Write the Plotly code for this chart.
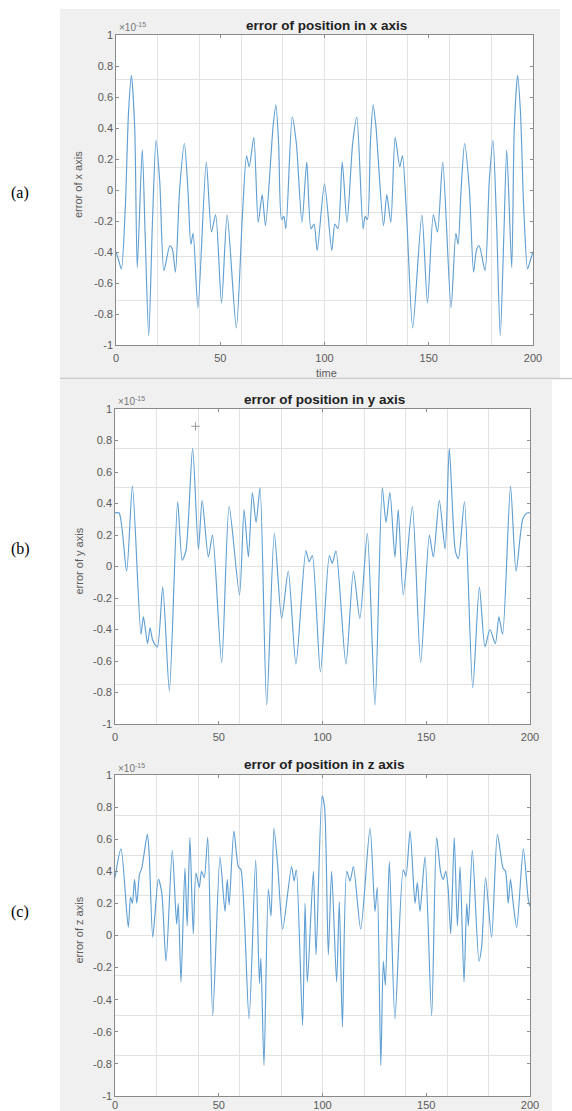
import plotly.graph_objects as go

# ---------------- data (values in units of 1e-15) ----------------
t_x = [0, 1.2, 2.6, 4.5, 6, 7.4, 9.0, 10.2, 12.6, 14, 15.7, 17.5, 19.2, 21, 23, 25.8, 27, 28.5,
       30.5, 32.8, 34.5, 35.9, 37, 39.3, 43.3, 45.8, 47.8, 50.6, 53.3, 57.7, 60.5, 62.6, 63.9,
       66.1, 68.2, 70.1, 71.7, 75.4, 76.7, 78, 79.4, 80.5, 81.5, 84.5, 86.5, 89.2, 91.5, 93.5,
       95, 96.5, 100, 103.5, 105, 106.5, 108.5, 110.8, 113.5, 115.5, 118.5, 119.5, 120.6, 122,
       123.3, 124.6, 128.3, 129.9, 131.8, 133.9, 136.1, 137.4, 139.5, 142.3, 146.7, 149.4,
       152.2, 154.2, 156.7, 160.7, 163, 164.1, 165.5, 167.2, 169.5, 171.5, 173, 174.2, 177,
       179, 180.8, 182.5, 184.3, 186, 187.4, 189.8, 191, 192.6, 194, 195.5, 197.4, 198.8, 200]
err_x = [-0.40, -0.45, -0.51, -0.10, 0.50, 0.74, 0.39, -0.50, 0.26, -0.30, -0.94, -0.20, 0.32,
         0.05, -0.52, -0.36, -0.38, -0.53, 0.0, 0.30, 0.0, -0.35, -0.28, -0.76, 0.18, -0.27,
         -0.16, -0.73, -0.16, -0.89, -0.20, 0.22, 0.15, 0.34, -0.21, -0.03, -0.23, 0.42, 0.55,
         0.30, -0.19, -0.17, -0.25, 0.47, 0.30, -0.21, 0.18, -0.25, -0.22, -0.39, 0.04, -0.39,
         -0.22, -0.25, 0.18, -0.21, 0.30, 0.47, -0.25, -0.17, -0.19, 0.30, 0.55, 0.42, -0.23,
         -0.03, -0.21, 0.34, 0.15, 0.22, -0.20, -0.89, -0.16, -0.73, -0.16, -0.27, 0.18, -0.76,
         -0.28, -0.35, 0.0, 0.30, 0.0, -0.53, -0.38, -0.36, -0.52, 0.05, 0.32, -0.20, -0.94,
         -0.30, 0.26, -0.50, 0.39, 0.74, 0.50, -0.10, -0.51, -0.45, -0.40]

t_y = [0, 2, 5.6, 8.4, 12.5, 13.7, 15.7, 16.9, 18.2, 20.4, 23, 26.2, 30.2, 32.4, 34.2, 37.4,
       40.2, 42, 45, 47, 51.4, 55, 60, 62.2, 64.3, 66.2, 68, 69.9, 73.1, 76.8, 80.3, 83.5, 87.2,
       92, 93.6, 95.1, 99, 103.3, 104.7, 106.5, 111.3, 114.9, 118, 121.6, 125.3, 128.8, 130.6,
       132.5, 134.9, 136.5, 138.9, 143.3, 147.3, 151.5, 153.4, 156.3, 159.1, 161.1, 164, 165.5,
       168.4, 172.4, 175.6, 178.3, 180.7, 183.3, 185.0, 186.8, 190.6, 193.3, 196.5, 198.6, 200]
err_y = [0.34, 0.34, -0.03, 0.51, -0.43, -0.32, -0.49, -0.39, -0.47, -0.51, -0.13, -0.79, 0.41,
         0.04, 0.10, 0.75, 0.11, 0.42, 0.06, 0.20, -0.61, 0.38, -0.18, 0.36, 0.06, 0.47, 0.28,
         0.50, -0.88, 0.21, -0.33, -0.03, -0.62, 0.10, 0.03, 0.07, -0.67, 0.07, 0.02, 0.10,
         -0.62, -0.03, -0.33, 0.21, -0.88, 0.50, 0.28, 0.47, 0.06, 0.36, -0.18, 0.38, -0.61,
         0.20, 0.06, 0.42, 0.11, 0.75, 0.10, 0.05, 0.41, -0.77, -0.13, -0.51, -0.40, -0.49,
         -0.32, -0.43, 0.51, -0.03, 0.30, 0.34, 0.34]
cursor_t = [38.8]
cursor_err = [0.89]

t_z = [0, 2.9, 6.4, 7.5, 8.4, 9.4, 10.5, 11.8, 12.9, 15.6, 16.5, 18.2, 20.9, 22.5, 24.6, 27.6,
       29.7, 30.5, 31.8, 33.7, 34.8, 36.1, 37.7, 39, 40.6, 41.7, 43, 44.7, 47.1, 50.6, 53, 54.1,
       55, 57.3, 59.4, 60.7, 64.6, 67.8, 69.6, 70.3, 71.8, 73.9, 75.2, 76.6, 78.5, 80.8, 85.1,
       86.3, 87.4, 90.4, 91.6, 92.7, 95.6, 96.9, 99.8, 101, 102.8, 104.4, 106.8, 108.1, 109.6,
       111.7, 113.3, 114.9, 118.4, 122.9, 125.3, 126.4, 128.1, 129.3, 130.3, 132.2, 134.9,
       138.9, 140.2, 142.2, 144.6, 145.7, 147, 149.4, 152.6, 155, 157, 158.2, 159.4, 160.5,
       161.8, 163.5, 165, 166.3, 168.2, 169.5, 170.3, 172.2, 175.4, 176.7, 178.6, 181.5, 184.3,
       187, 188.2, 189.5, 190.6, 191.9, 193.6, 196.8, 199.2, 200]
err_z = [0.36, 0.54, 0.05, 0.24, 0.20, 0.35, 0.20, 0.38, 0.42, 0.63, 0.50, -0.01, 0.35, 0.27,
         -0.16, 0.53, 0.07, 0.20, -0.29, 0.42, 0.06, 0.61, 0.01, 0.39, 0.30, 0.40, 0.36, 0.61,
         -0.50, 0.49, 0.15, 0.35, 0.19, 0.65, 0.43, 0.41, -0.52, 0.47, -0.30, -0.14, -0.81, 0.29,
         0.12, 0.67, 0.42, 0.04, 0.43, 0.34, 0.41, -0.56, 0.20, -0.29, 0.40, -0.12, 0.87, 0.80,
         -0.12, 0.40, -0.29, 0.21, -0.57, 0.40, 0.34, 0.43, 0.04, 0.67, 0.15, 0.30, -0.81, -0.16,
         -0.31, 0.46, -0.52, 0.41, 0.37, 0.65, 0.20, 0.33, 0.15, 0.49, -0.50, 0.61, 0.39, 0.35,
         0.40, 0.30, 0.01, 0.61, 0.06, 0.43, -0.29, 0.20, 0.06, 0.53, -0.16, -0.07, 0.36, -0.01,
         0.63, 0.42, 0.40, 0.20, 0.35, 0.20, 0.05, 0.54, 0.22, 0.18]

x_ticks = [0, 50, 100, 150, 200]
y_ticks = [-1, -0.8, -0.6, -0.4, -0.2, 0, 0.2, 0.4, 0.6, 0.8, 1]
y_ticktext = ["-1", "-0.8", "-0.6", "-0.4", "-0.2", "0", "0.2", "0.4", "0.6", "0.8", "1"]
x_grid = [20, 40, 60, 80, 100, 120, 140, 160, 180]
y_grid_a = [-5/7, -3/7, -1/7, 1/7, 3/7, 5/7]
y_grid_bc = [-0.75, -0.5, -0.25, 0, 0.25, 0.5, 0.75]

titles = ["error of position in x axis", "error of position in y axis", "error of position in z axis"]
ylabels = ["error of x axis", "error of y axis", "error of z axis"]
letters = ["(a)", "(b)", "(c)"]

# ---------------- layout helpers ----------------
W, H = 572, 1111
def X(px):
    return px / W
def Y(py):
    return 1 - py / H

# plot-area pixel boxes (left, right, top, bottom)
boxes = [(116, 533, 35, 345), (115, 530, 409, 724), (115, 530, 775, 1096)]
title_y = [25, 399, 764]
exp_y = [27, 401, 768]
letter_y = [193, 549, 912]
xlabel_standoff = [5, 5, 1]

LINE = "#5f9fd3"
AXC = "#8a8a8a"
TXT = "#5a5a5a"
GRID = "#e2e2e2"
SANS = "Liberation Sans, Arial, sans-serif"

fig = go.Figure()
series = [(t_x, err_x), (t_y, err_y), (t_z, err_z)]
layout = dict(template="none", width=W, height=H, margin=dict(l=0, r=0, t=0, b=0, pad=0),
              paper_bgcolor="white", plot_bgcolor="rgba(0,0,0,0)", showlegend=False)
annotations = []
shapes = [
    dict(type="rect", xref="paper", yref="paper", x0=X(60), x1=X(560), y0=Y(378), y1=Y(9),
         fillcolor="#f0f0f0", line=dict(width=0), layer="below"),
    dict(type="rect", xref="paper", yref="paper", x0=X(60), x1=X(552), y0=Y(1111), y1=Y(380),
         fillcolor="#f0f0f0", line=dict(width=0), layer="below"),
]

for i in range(3):
    k = i + 1
    kl = i + 4
    l, r, t, b = boxes[i]
    xs, ys = series[i]
    fig.add_trace(go.Scatter(x=xs, y=ys, xaxis=f"x{k}", yaxis=f"y{k}", mode="lines",
                             line=dict(color=LINE, width=1.15, shape="spline", smoothing=0.7),
                             hoverinfo="skip"))
    fig.add_trace(go.Scatter(x=[0, 200], y=[-1, 1], xaxis=f"x{kl}", yaxis=f"y{kl}",
                             mode="markers", marker=dict(opacity=0, size=1), hoverinfo="skip"))
    shapes.append(dict(type="rect", xref="paper", yref="paper", x0=X(l), x1=X(r),
                       y0=Y(b), y1=Y(t), fillcolor="white", line=dict(width=0), layer="below"))
    ygrid = y_grid_a if i == 0 else y_grid_bc
    xname = "xaxis" if k == 1 else f"xaxis{k}"
    yname = "yaxis" if k == 1 else f"yaxis{k}"
    layout[xname] = dict(domain=[X(l), X(r)], anchor=f"y{k}", range=[0, 200], automargin=False,
                         tickmode="array", tickvals=x_grid, showticklabels=False, ticks="",
                         showgrid=True, gridcolor=GRID, gridwidth=1, zeroline=False,
                         showline=True, linecolor=AXC, linewidth=1, mirror=True, fixedrange=True)
    layout[yname] = dict(domain=[Y(b), Y(t)], anchor=f"x{k}", range=[-1, 1], automargin=False,
                         tickmode="array", tickvals=ygrid, showticklabels=False, ticks="",
                         showgrid=True, gridcolor=GRID, gridwidth=1, zeroline=False,
                         showline=True, linecolor=AXC, linewidth=1, mirror=True, fixedrange=True)
    layout[f"xaxis{kl}"] = dict(overlaying=f"x{k}", anchor=f"y{kl}", side="bottom", range=[0, 200],
                                automargin=False, ticklabelstandoff=xlabel_standoff[i],
                                tickmode="array", tickvals=x_ticks, ticks="inside", ticklen=3,
                                tickcolor=AXC, showgrid=False, zeroline=False, showline=False,
                                mirror="ticks", tickfont=dict(family=SANS, size=11, color=TXT),
                                fixedrange=True)
    layout[f"yaxis{kl}"] = dict(overlaying=f"y{k}", anchor=f"x{kl}", side="left", range=[-1, 1],
                                automargin=False, ticklabelstandoff=2,
                                tickmode="array", tickvals=y_ticks, ticktext=y_ticktext,
                                ticks="inside", ticklen=3, tickcolor=AXC, showgrid=False,
                                zeroline=False, showline=False, mirror="ticks",
                                tickfont=dict(family=SANS, size=11, color=TXT), fixedrange=True)

    cx = (l + r) / 2
    annotations.append(dict(text=f"<b>{titles[i]}</b>", xref="paper", yref="paper", x=X(cx + 2),
                            y=Y(title_y[i]), xanchor="center", yanchor="middle", showarrow=False,
                            font=dict(family=SANS, size=13.5, color="#222222")))
    annotations.append(dict(text="×10<sup>-15</sup>", xref="paper", yref="paper", x=X(l + 1),
                            y=Y(exp_y[i]), xanchor="left", yanchor="middle", showarrow=False,
                            font=dict(family=SANS, size=10, color="#777777")))
    annotations.append(dict(text=ylabels[i], xref="paper", yref="paper", x=X(78),
                            y=Y((t + b) / 2 - 5), xanchor="center", yanchor="middle",
                            textangle=-90, showarrow=False,
                            font=dict(family=SANS, size=11, color=TXT)))
    annotations.append(dict(text=letters[i], xref="paper", yref="paper", x=X(20),
                            y=Y(letter_y[i]), xanchor="center", yanchor="middle", showarrow=False,
                            font=dict(family="Liberation Serif, Times New Roman, serif", size=16,
                                      color="black")))

# data-cursor cross in panel (b)
fig.add_trace(go.Scatter(x=cursor_t, y=cursor_err, xaxis="x2", yaxis="y2", mode="markers",
                         marker=dict(symbol="cross-thin", size=6, line=dict(color="#999999", width=1)),
                         hoverinfo="skip"))

annotations.append(dict(text="time", xref="paper", yref="paper", x=X(326), y=Y(373),
                        xanchor="center", yanchor="middle", showarrow=False,
                        font=dict(family=SANS, size=11, color=TXT)))
shapes.append(dict(type="line", xref="paper", yref="paper", x0=X(60), x1=X(572), y0=Y(378.5),
                   y1=Y(378.5), line=dict(color="#c9c9c9", width=1.5), layer="above"))

layout["annotations"] = annotations
layout["shapes"] = shapes
fig.update_layout(**layout)
fig.write_html(
    "out.html",
    config={"displayModeBar": False},
    post_script="document.body.style.margin='0';document.body.style.padding='0';"
                "document.body.style.overflow='hidden';",
)
